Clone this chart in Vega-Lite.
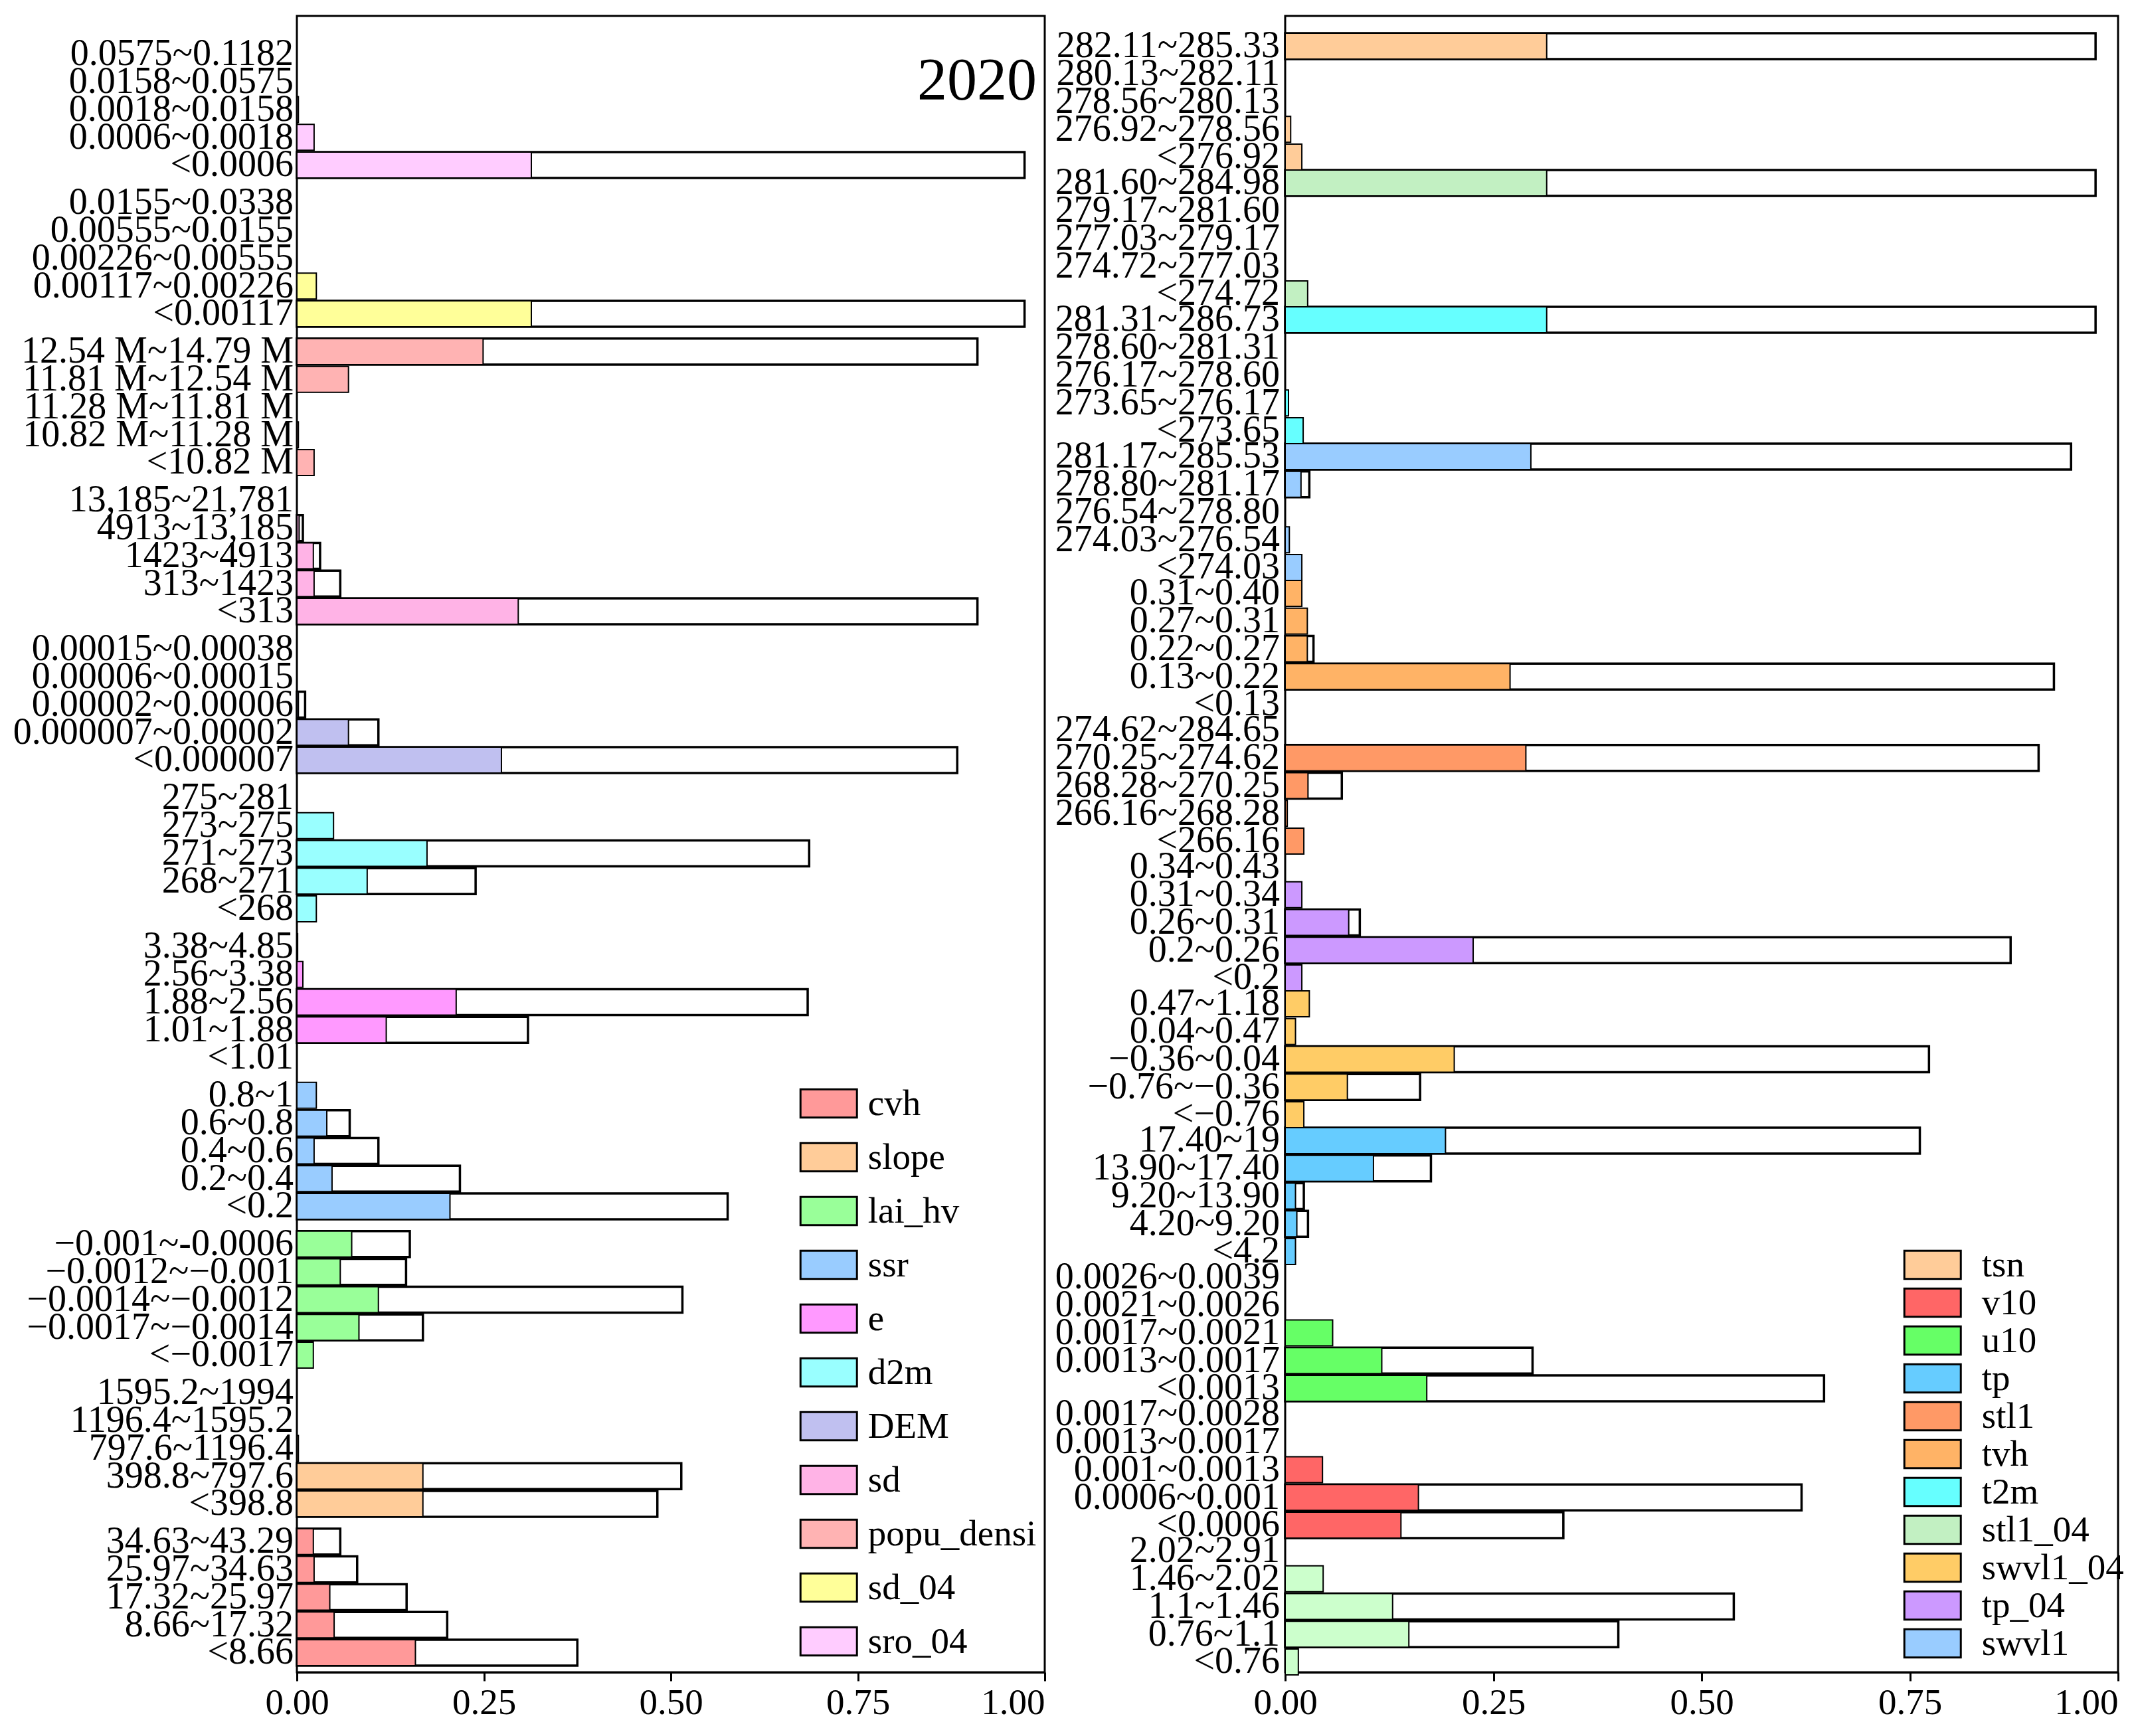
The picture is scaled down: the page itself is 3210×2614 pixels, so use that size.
{
  "$schema": "https://vega.github.io/schema/vega-lite/v6.json",
  "background": "white",
  "padding": {"left": 18, "top": 22, "right": 5, "bottom": 5},
  "datasets": {
    "L": [
      {"grp": "sro_04", "level": 5, "cat": "0.0575~0.1182", "p": 0, "q": 0},
      {"grp": "sro_04", "level": 4, "cat": "0.0158~0.0575", "p": 0, "q": 0},
      {"grp": "sro_04", "level": 3, "cat": "0.0018~0.0158", "p": 0.002, "q": 0},
      {"grp": "sro_04", "level": 2, "cat": "0.0006~0.0018", "p": 0.023, "q": 0},
      {"grp": "sro_04", "level": 1, "cat": "<0.0006", "p": 0.3135, "q": 0.973},
      {"grp": "sd_04", "level": 5, "cat": "0.0155~0.0338", "p": 0, "q": 0},
      {"grp": "sd_04", "level": 4, "cat": "0.00555~0.0155", "p": 0, "q": 0},
      {"grp": "sd_04", "level": 3, "cat": "0.00226~0.00555", "p": 0, "q": 0},
      {"grp": "sd_04", "level": 2, "cat": "0.00117~0.00226", "p": 0.026, "q": 0},
      {"grp": "sd_04", "level": 1, "cat": "<0.00117", "p": 0.3135, "q": 0.973},
      {"grp": "popu_densi", "level": 5, "cat": "12.54 M~14.79 M", "p": 0.249, "q": 0.91},
      {"grp": "popu_densi", "level": 4, "cat": "11.81 M~12.54 M", "p": 0.069, "q": 0},
      {"grp": "popu_densi", "level": 3, "cat": "11.28 M~11.81 M", "p": 0, "q": 0},
      {"grp": "popu_densi", "level": 2, "cat": "10.82 M~11.28 M", "p": 0.002, "q": 0},
      {"grp": "popu_densi", "level": 1, "cat": "<10.82 M", "p": 0.023, "q": 0},
      {"grp": "sd", "level": 5, "cat": "13,185~21,781", "p": 0, "q": 0},
      {"grp": "sd", "level": 4, "cat": "4913~13,185", "p": 0.003, "q": 0.008},
      {"grp": "sd", "level": 3, "cat": "1423~4913", "p": 0.022, "q": 0.031},
      {"grp": "sd", "level": 2, "cat": "313~1423", "p": 0.023, "q": 0.058},
      {"grp": "sd", "level": 1, "cat": "<313", "p": 0.296, "q": 0.91},
      {"grp": "DEM", "level": 5, "cat": "0.00015~0.00038", "p": 0, "q": 0},
      {"grp": "DEM", "level": 4, "cat": "0.00006~0.00015", "p": 0, "q": 0},
      {"grp": "DEM", "level": 3, "cat": "0.00002~0.00006", "p": 0.002, "q": 0.011},
      {"grp": "DEM", "level": 2, "cat": "0.000007~0.00002", "p": 0.069, "q": 0.109},
      {"grp": "DEM", "level": 1, "cat": "<0.000007", "p": 0.2735, "q": 0.883},
      {"grp": "d2m", "level": 5, "cat": "275~281", "p": 0, "q": 0},
      {"grp": "d2m", "level": 4, "cat": "273~275", "p": 0.049, "q": 0},
      {"grp": "d2m", "level": 3, "cat": "271~273", "p": 0.174, "q": 0.685},
      {"grp": "d2m", "level": 2, "cat": "268~271", "p": 0.094, "q": 0.239},
      {"grp": "d2m", "level": 1, "cat": "<268", "p": 0.026, "q": 0},
      {"grp": "e", "level": 5, "cat": "3.38~4.85", "p": 0.001, "q": 0},
      {"grp": "e", "level": 4, "cat": "2.56~3.38", "p": 0.008, "q": 0},
      {"grp": "e", "level": 3, "cat": "1.88~2.56", "p": 0.213, "q": 0.683},
      {"grp": "e", "level": 2, "cat": "1.01~1.88", "p": 0.1195, "q": 0.309},
      {"grp": "e", "level": 1, "cat": "<1.01", "p": 0, "q": 0},
      {"grp": "ssr", "level": 5, "cat": "0.8~1", "p": 0.026, "q": 0},
      {"grp": "ssr", "level": 4, "cat": "0.6~0.8", "p": 0.04, "q": 0.0706},
      {"grp": "ssr", "level": 3, "cat": "0.4~0.6", "p": 0.023, "q": 0.109},
      {"grp": "ssr", "level": 2, "cat": "0.2~0.4", "p": 0.047, "q": 0.218},
      {"grp": "ssr", "level": 1, "cat": "<0.2", "p": 0.2047, "q": 0.576},
      {"grp": "lai_hv", "level": 5, "cat": "−0.001~-0.0006", "p": 0.0733, "q": 0.151},
      {"grp": "lai_hv", "level": 4, "cat": "−0.0012~−0.001", "p": 0.058, "q": 0.146},
      {"grp": "lai_hv", "level": 3, "cat": "−0.0014~−0.0012", "p": 0.109, "q": 0.5155},
      {"grp": "lai_hv", "level": 2, "cat": "−0.0017~−0.0014", "p": 0.083, "q": 0.1685},
      {"grp": "lai_hv", "level": 1, "cat": "<−0.0017", "p": 0.022, "q": 0},
      {"grp": "slope", "level": 5, "cat": "1595.2~1994", "p": 0, "q": 0},
      {"grp": "slope", "level": 4, "cat": "1196.4~1595.2", "p": 0, "q": 0},
      {"grp": "slope", "level": 3, "cat": "797.6~1196.4", "p": 0.002, "q": 0},
      {"grp": "slope", "level": 2, "cat": "398.8~797.6", "p": 0.1685, "q": 0.514},
      {"grp": "slope", "level": 1, "cat": "<398.8", "p": 0.1685, "q": 0.482},
      {"grp": "cvh", "level": 5, "cat": "34.63~43.29", "p": 0.022, "q": 0.058},
      {"grp": "cvh", "level": 4, "cat": "25.97~34.63", "p": 0.023, "q": 0.0806},
      {"grp": "cvh", "level": 3, "cat": "17.32~25.97", "p": 0.044, "q": 0.1467},
      {"grp": "cvh", "level": 2, "cat": "8.66~17.32", "p": 0.0498, "q": 0.201},
      {"grp": "cvh", "level": 1, "cat": "<8.66", "p": 0.1585, "q": 0.375}
    ],
    "R": [
      {"grp": "tsn", "level": 5, "cat": "282.11~285.33", "p": 0.314, "q": 0.973},
      {"grp": "tsn", "level": 4, "cat": "280.13~282.11", "p": 0, "q": 0},
      {"grp": "tsn", "level": 3, "cat": "278.56~280.13", "p": 0, "q": 0},
      {"grp": "tsn", "level": 2, "cat": "276.92~278.56", "p": 0.0066, "q": 0},
      {"grp": "tsn", "level": 1, "cat": "<276.92", "p": 0.02, "q": 0},
      {"grp": "stl1_04", "level": 5, "cat": "281.60~284.98", "p": 0.314, "q": 0.973},
      {"grp": "stl1_04", "level": 4, "cat": "279.17~281.60", "p": 0, "q": 0},
      {"grp": "stl1_04", "level": 3, "cat": "277.03~279.17", "p": 0, "q": 0},
      {"grp": "stl1_04", "level": 2, "cat": "274.72~277.03", "p": 0, "q": 0},
      {"grp": "stl1_04", "level": 1, "cat": "<274.72", "p": 0.027, "q": 0},
      {"grp": "t2m", "level": 5, "cat": "281.31~286.73", "p": 0.314, "q": 0.973},
      {"grp": "t2m", "level": 4, "cat": "278.60~281.31", "p": 0, "q": 0},
      {"grp": "t2m", "level": 3, "cat": "276.17~278.60", "p": 0, "q": 0},
      {"grp": "t2m", "level": 2, "cat": "273.65~276.17", "p": 0.004, "q": 0},
      {"grp": "t2m", "level": 1, "cat": "<273.65", "p": 0.0216, "q": 0},
      {"grp": "swvl1", "level": 5, "cat": "281.17~285.53", "p": 0.295, "q": 0.9436},
      {"grp": "swvl1", "level": 4, "cat": "278.80~281.17", "p": 0.019, "q": 0.029},
      {"grp": "swvl1", "level": 3, "cat": "276.54~278.80", "p": 0, "q": 0},
      {"grp": "swvl1", "level": 2, "cat": "274.03~276.54", "p": 0.005, "q": 0},
      {"grp": "swvl1", "level": 1, "cat": "<274.03", "p": 0.02, "q": 0},
      {"grp": "tvh", "level": 5, "cat": "0.31~0.40", "p": 0.02, "q": 0},
      {"grp": "tvh", "level": 4, "cat": "0.27~0.31", "p": 0.0266, "q": 0},
      {"grp": "tvh", "level": 3, "cat": "0.22~0.27", "p": 0.0266, "q": 0.034},
      {"grp": "tvh", "level": 2, "cat": "0.13~0.22", "p": 0.27, "q": 0.923},
      {"grp": "tvh", "level": 1, "cat": "<0.13", "p": 0, "q": 0},
      {"grp": "stl1", "level": 5, "cat": "274.62~284.65", "p": 0, "q": 0},
      {"grp": "stl1", "level": 4, "cat": "270.25~274.62", "p": 0.289, "q": 0.9046},
      {"grp": "stl1", "level": 3, "cat": "268.28~270.25", "p": 0.0274, "q": 0.068},
      {"grp": "stl1", "level": 2, "cat": "266.16~268.28", "p": 0.0025, "q": 0},
      {"grp": "stl1", "level": 1, "cat": "<266.16", "p": 0.0224, "q": 0},
      {"grp": "tp_04", "level": 5, "cat": "0.34~0.43", "p": 0, "q": 0},
      {"grp": "tp_04", "level": 4, "cat": "0.31~0.34", "p": 0.02, "q": 0},
      {"grp": "tp_04", "level": 3, "cat": "0.26~0.31", "p": 0.0763, "q": 0.0896},
      {"grp": "tp_04", "level": 2, "cat": "0.2~0.26", "p": 0.2257, "q": 0.871},
      {"grp": "tp_04", "level": 1, "cat": "<0.2", "p": 0.02, "q": 0},
      {"grp": "swvl1_04", "level": 5, "cat": "0.47~1.18", "p": 0.029, "q": 0},
      {"grp": "swvl1_04", "level": 4, "cat": "0.04~0.47", "p": 0.0124, "q": 0},
      {"grp": "swvl1_04", "level": 3, "cat": "−0.36~0.04", "p": 0.203, "q": 0.773},
      {"grp": "swvl1_04", "level": 2, "cat": "−0.76~−0.36", "p": 0.0747, "q": 0.162},
      {"grp": "swvl1_04", "level": 1, "cat": "<−0.76", "p": 0.0224, "q": 0},
      {"grp": "tp", "level": 5, "cat": "17.40~19", "p": 0.1925, "q": 0.762},
      {"grp": "tp", "level": 4, "cat": "13.90~17.40", "p": 0.106, "q": 0.175},
      {"grp": "tp", "level": 3, "cat": "9.20~13.90", "p": 0.0124, "q": 0.0224},
      {"grp": "tp", "level": 2, "cat": "4.20~9.20", "p": 0.014, "q": 0.0274},
      {"grp": "tp", "level": 1, "cat": "<4.2", "p": 0.0124, "q": 0},
      {"grp": "u10", "level": 5, "cat": "0.0026~0.0039", "p": 0, "q": 0},
      {"grp": "u10", "level": 4, "cat": "0.0021~0.0026", "p": 0, "q": 0},
      {"grp": "u10", "level": 3, "cat": "0.0017~0.0021", "p": 0.057, "q": 0},
      {"grp": "u10", "level": 2, "cat": "0.0013~0.0017", "p": 0.116, "q": 0.297},
      {"grp": "u10", "level": 1, "cat": "<0.0013", "p": 0.17, "q": 0.647},
      {"grp": "v10", "level": 5, "cat": "0.0017~0.0028", "p": 0, "q": 0},
      {"grp": "v10", "level": 4, "cat": "0.0013~0.0017", "p": 0, "q": 0},
      {"grp": "v10", "level": 3, "cat": "0.001~0.0013", "p": 0.0448, "q": 0},
      {"grp": "v10", "level": 2, "cat": "0.0006~0.001", "p": 0.16, "q": 0.62},
      {"grp": "v10", "level": 1, "cat": "<0.0006", "p": 0.139, "q": 0.334},
      {"grp": "lai_lv", "level": 5, "cat": "2.02~2.91", "p": 0, "q": 0},
      {"grp": "lai_lv", "level": 4, "cat": "1.46~2.02", "p": 0.0456, "q": 0},
      {"grp": "lai_lv", "level": 3, "cat": "1.1~1.46", "p": 0.129, "q": 0.5386},
      {"grp": "lai_lv", "level": 2, "cat": "0.76~1.1", "p": 0.1485, "q": 0.4},
      {"grp": "lai_lv", "level": 1, "cat": "<0.76", "p": 0.0158, "q": 0}
    ]
  },
  "spacing": 362,
  "bounds": "flush",
  "resolve": {"scale": {"color": "independent", "x": "independent", "y": "independent"}},
  "hconcat": [
    {
      "width": 1126,
      "height": 2494,
      "data": {"name": "L"},
      "layer": [
        {
          "transform": [{"filter": "datum.q > 0"}],
          "mark": {"type": "bar", "fill": "white", "stroke": "black", "strokeWidth": 3.5},
          "encoding": {
            "x": {"field": "q", "type": "quantitative", "scale": {"domain": [0, 1]},
                  "axis": {"values": [0, 0.25, 0.5, 0.75, 1], "format": ".2f", "title": null, "labelFlush": false,
                           "labelAlign": {"expr": "datum.value == 1 ? 'right' : 'center'"}}},
            "y": {"field": "grp", "type": "nominal", "sort": null, "axis": null,
                  "scale": {"domain": ["sro_04", "sd_04", "popu_densi", "sd", "DEM", "d2m", "e", "ssr", "lai_hv", "slope", "cvh"],
                            "paddingInner": 0.08, "paddingOuter": 0.107, "align": 0.79}},
            "yOffset": {"field": "level", "type": "ordinal", "scale": {"domain": [5, 4, 3, 2, 1], "paddingInner": 0.066, "paddingOuter": 0}}
          }
        },
        {
          "transform": [{"filter": "datum.p > 0"}],
          "mark": {"type": "bar", "stroke": "black", "strokeWidth": 2, "opacity": 1},
          "encoding": {
            "x": {"field": "p", "type": "quantitative"},
            "y": {"field": "grp", "type": "nominal", "sort": null},
            "yOffset": {"field": "level", "type": "ordinal"},
            "color": {"field": "grp", "type": "nominal",
                      "scale": {"domain": ["cvh", "slope", "lai_hv", "ssr", "e", "d2m", "DEM", "sd", "popu_densi", "sd_04", "sro_04"],
                                "range": ["#FF9999", "#FFCC99", "#99FF99", "#99CCFF", "#FF99FF", "#99FFFF", "#C0C0F0", "#FFB3E6", "#FFB3B3", "#FFFF99", "#FFCCFF"]},
                      "legend": {"orient": "none", "legendX": 752, "legendY": 1610, "title": null, "padding": 0,
                                 "values": ["cvh", "slope", "lai_hv", "ssr", "e", "d2m", "DEM", "sd", "popu_densi", "sd_04", "sro_04"],
                                 "symbolType": "M-2,-1H2V1H-2Z", "symbolSize": 1806, "symbolOffset": 21.25,
                                 "symbolStrokeColor": "black", "symbolStrokeWidth": 3, "symbolOpacity": 1,
                                 "labelOffset": 31.5, "rowPadding": 25, "labelFontSize": 55, "labelLimit": 600}}
          }
        },
        {
          "mark": {"type": "text", "align": "right", "baseline": "middle", "dx": -5, "fontSize": 56},
          "encoding": {
            "x": {"datum": 0},
            "y": {"field": "grp", "type": "nominal", "sort": null},
            "yOffset": {"field": "level", "type": "ordinal"},
            "text": {"field": "cat"}
          }
        },
        {
          "data": {"values": [{"t": "2020", "grp": "sro_04", "level": 4}]},
          "mark": {"type": "text", "align": "right", "baseline": "middle", "dx": -12, "fontSize": 90},
          "encoding": {
            "x": {"datum": 1},
            "y": {"field": "grp", "type": "nominal", "sort": null},
            "yOffset": {"field": "level", "type": "ordinal"},
            "text": {"field": "t"}
          }
        }
      ]
    },
    {
      "width": 1254,
      "height": 2494,
      "data": {"name": "R"},
      "layer": [
        {
          "transform": [{"filter": "datum.q > 0"}],
          "mark": {"type": "bar", "fill": "white", "stroke": "black", "strokeWidth": 3.5},
          "encoding": {
            "x": {"field": "q", "type": "quantitative", "scale": {"domain": [0, 1]},
                  "axis": {"values": [0, 0.25, 0.5, 0.75, 1], "format": ".2f", "title": null, "labelFlush": false,
                           "labelAlign": {"expr": "datum.value == 1 ? 'right' : 'center'"}}},
            "y": {"field": "grp", "type": "nominal", "sort": null, "axis": null,
                  "scale": {"domain": ["tsn", "stl1_04", "t2m", "swvl1", "tvh", "stl1", "tp_04", "swvl1_04", "tp", "u10", "v10", "lai_lv"],
                            "paddingInner": 0.078, "paddingOuter": 0.0925, "align": 0.68}},
            "yOffset": {"field": "level", "type": "ordinal", "scale": {"domain": [5, 4, 3, 2, 1], "paddingInner": 0.128, "paddingOuter": 0}}
          }
        },
        {
          "transform": [{"filter": "datum.p > 0"}],
          "mark": {"type": "bar", "stroke": "black", "strokeWidth": 2, "opacity": 1},
          "encoding": {
            "x": {"field": "p", "type": "quantitative"},
            "y": {"field": "grp", "type": "nominal", "sort": null},
            "yOffset": {"field": "level", "type": "ordinal"},
            "color": {"field": "grp", "type": "nominal",
                      "scale": {"domain": ["tsn", "v10", "u10", "tp", "stl1", "tvh", "t2m", "stl1_04", "swvl1_04", "tp_04", "swvl1", "lai_lv"],
                                "range": ["#FFCC99", "#FF6666", "#66FF66", "#66CCFF", "#FF9966", "#FFB366", "#66FFFF", "#C2F0C2", "#FFCC66", "#CC99FF", "#99CCFF", "#CCFFCC"]},
                      "legend": {"orient": "none", "legendX": 926, "legendY": 1853, "title": null, "padding": 0,
                                 "values": ["tsn", "v10", "u10", "tp", "stl1", "tvh", "t2m", "stl1_04", "swvl1_04", "tp_04", "swvl1"],
                                 "symbolType": "M-2,-1H2V1H-2Z", "symbolSize": 1806, "symbolOffset": 21.25,
                                 "symbolStrokeColor": "black", "symbolStrokeWidth": 3, "symbolOpacity": 1,
                                 "labelOffset": 46.5, "rowPadding": 1, "labelFontSize": 55, "labelLimit": 600}}
          }
        },
        {
          "mark": {"type": "text", "align": "right", "baseline": "middle", "dx": -8, "fontSize": 56},
          "encoding": {
            "x": {"datum": 0},
            "y": {"field": "grp", "type": "nominal", "sort": null},
            "yOffset": {"field": "level", "type": "ordinal"},
            "text": {"field": "cat"}
          }
        }
      ]
    }
  ],
  "config": {
    "font": "Liberation Serif",
    "view": {"stroke": "black", "strokeWidth": 3},
    "axisX": {"domainColor": "black", "domainWidth": 3, "tickColor": "black", "tickWidth": 3, "tickSize": 13,
              "labelFontSize": 55, "labelColor": "black", "labelPadding": 6, "grid": false, "labelFont": "Liberation Serif"},
    "legend": {"labelFont": "Liberation Serif", "labelFontSize": 55, "labelColor": "black", "labelLimit": 600},
    "text": {"font": "Liberation Serif", "color": "black"}
  }
}
